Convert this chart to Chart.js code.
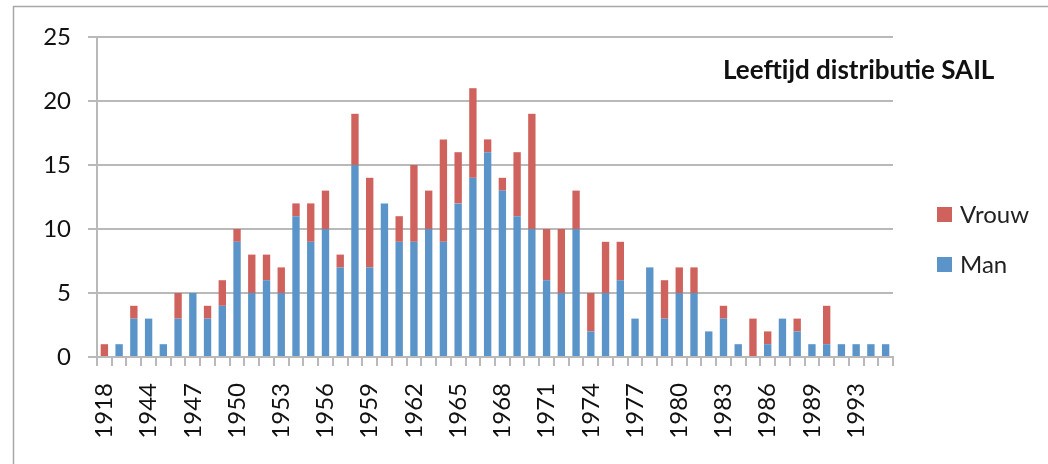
<!DOCTYPE html>
<html lang="nl">
<head>
<meta charset="UTF-8">
<title>Leeftijd distributie SAIL</title>
<script src="https://cdn.jsdelivr.net/npm/chart.js"></script>
<style>
    body { margin: 0; background: #fff; }
    .wrap { position: relative; width: 1048px; height: 464px; }
</style>
</head>
<body>
<div class="wrap"><canvas id="chart"></canvas></div>
<script>
// birth years (every third one is labelled on the axis)
const years = ['1918', '1942', '1943', '1944', '1945', '1946', '1947', '1948', '1949',
    '1950', '1951', '1952', '1953', '1954', '1955', '1956', '1957', '1958', '1959',
    '1960', '1961', '1962', '1963', '1964', '1965', '1966', '1967', '1968', '1969',
    '1970', '1971', '1972', '1973', '1974', '1975', '1976', '1977', '1978', '1979',
    '1980', '1981', '1982', '1983', '1984', '1985', '1986', '1987', '1988', '1989',
    '1990', '1991', '1993', '1994', '1995'];

const man = [0, 1, 3, 3, 1, 3, 5, 3, 4,
    9, 5, 6, 5, 11, 9, 10, 7, 15, 7,
    12, 9, 9, 10, 9, 12, 14, 16, 13, 11,
    10, 6, 5, 10, 2, 5, 6, 3, 7, 3,
    5, 5, 2, 3, 1, 0, 1, 3, 2, 1,
    1, 1, 1, 1, 1];

const vrouw = [1, 0, 1, 0, 0, 2, 0, 1, 2,
    1, 3, 2, 2, 1, 3, 3, 1, 4, 7,
    0, 2, 6, 3, 8, 4, 7, 1, 1, 5,
    9, 4, 5, 3, 3, 4, 3, 0, 0, 3,
    2, 2, 0, 1, 0, 3, 1, 0, 1, 0,
    3, 0, 0, 0, 0];

const yTicks = [0, 5, 10, 15, 20, 25];

const FONT = 'Lato, "Open Sans", sans-serif';
const GRID = '#b9b9b9';

// frame, title and legend like the original spreadsheet chart
const decorations = {
    id: 'decorations',
    beforeDraw(chart) {
        const ctx = chart.ctx;
        ctx.save();
        ctx.fillStyle = '#fff';
        ctx.fillRect(0, 0, chart.width, chart.height);
        ctx.strokeStyle = '#a8a8a8';
        ctx.lineWidth = 1.5;
        ctx.strokeRect(13.5, 6.5, 1100, 500);
        ctx.restore();
    },
    afterDraw(chart) {
        const ctx = chart.ctx;
        ctx.save();
        ctx.fillStyle = '#111';
        ctx.font = 'bold 26px ' + FONT;
        ctx.textBaseline = 'alphabetic';
        ctx.fillText('Leeftijd distributie SAIL', 723, 79);

        // legend, top series first
        const items = chart.data.datasets.slice().reverse();
        ctx.font = '24px ' + FONT;
        ctx.textBaseline = 'middle';
        items.forEach((ds, i) => {
            const y = 207 + i * 50;
            ctx.fillStyle = ds.backgroundColor;
            ctx.fillRect(937, y, 15, 15);
            ctx.fillStyle = '#222';
            ctx.fillText(ds.label, 960, y + 8);
        });
        ctx.restore();
    }
};

new Chart(document.getElementById('chart'), {
    type: 'bar',
    data: {
        labels: years,
        datasets: [
            { label: 'Man', data: man, backgroundColor: '#5b94c9' },
            { label: 'Vrouw', data: vrouw, backgroundColor: '#d0625d' }
        ]
    },
    options: {
        responsive: true,
        maintainAspectRatio: false,
        animation: false,
        layout: { padding: { left: 0, top: 37, right: 155, bottom: 0 } },
        datasets: { bar: { categoryPercentage: 1, barPercentage: 0.5 } },
        plugins: {
            legend: { display: false },
            tooltip: { enabled: false }
        },
        scales: {
            x: {
                stacked: true,
                afterFit: s => { s.height = 107; },
                grid: { drawOnChartArea: false, drawTicks: true, tickLength: 9, color: GRID, lineWidth: 2 },
                border: { color: GRID, width: 2 },
                ticks: {
                    autoSkip: false,
                    minRotation: 90,
                    maxRotation: 90,
                    padding: 17,
                    color: '#111',
                    font: { family: FONT, size: 24 },
                    callback: function (val, i) {
                        return i % 3 === 0 ? this.getLabelForValue(val) : '';
                    }
                }
            },
            y: {
                stacked: true,
                min: 0,
                max: 25,
                afterFit: s => { s.width = 97; },
                afterBuildTicks: s => { s.ticks = yTicks.map(v => ({ value: v })); },
                grid: { color: GRID, lineWidth: 2, tickLength: 9 },
                border: { color: GRID, width: 2 },
                ticks: {
                    padding: 17,
                    color: '#111',
                    font: { family: FONT, size: 24 }
                }
            }
        }
    },
    plugins: [decorations]
});
</script>
</body>
</html>
